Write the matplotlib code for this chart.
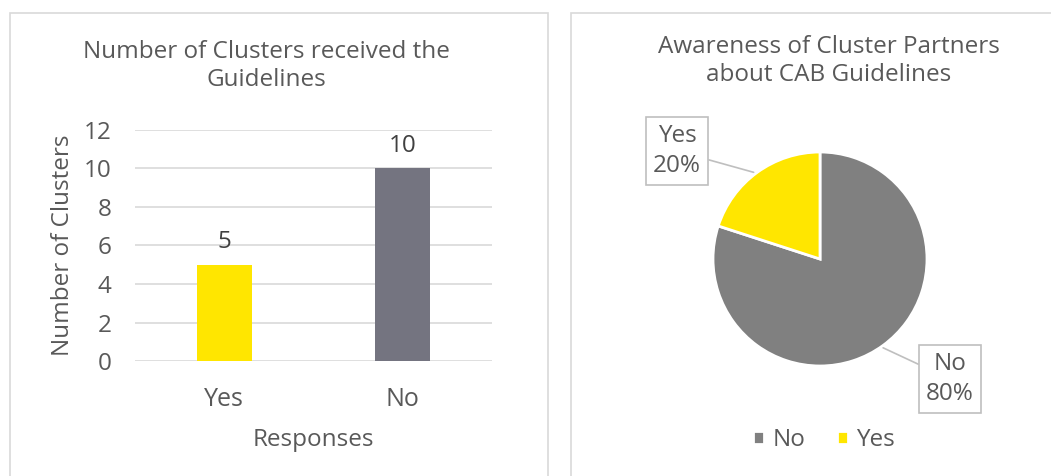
import matplotlib.pyplot as plt
from matplotlib.patches import Rectangle

plt.rcParams['font.family'] = ['Open Sans', 'DejaVu Sans']

bar_categories = ["Yes", "No"]
bar_values = [5, 10]
pie_labels = ["No", "Yes"]
pie_values = [80, 20]

yellow = "#FFE600"
bar_grey = "#747480"
pie_grey = "#808080"
txt = "#595959"

W, H = 1051, 476
fig = plt.figure(figsize=(W / 100, H / 100), dpi=100)

# panel borders
fig.patches.append(Rectangle((10 / W, -0.1), 538 / W, 1.1 - 13 / H, transform=fig.transFigure,
                             fill=False, edgecolor="#d9d9d9", linewidth=1.2))
fig.patches.append(Rectangle((571 / W, -0.1), 500 / W, 1.1 - 13 / H, transform=fig.transFigure,
                             fill=False, edgecolor="#d9d9d9", linewidth=1.2))

# bar chart
ax = fig.add_axes([135 / W, 1 - 361 / H, 357 / W, 231 / H])
x = range(len(bar_categories))
bars = ax.bar(x, bar_values, width=0.31, color=[yellow, bar_grey], zorder=3)
for b, v in zip(bars, bar_values):
    ax.text(b.get_x() + b.get_width() / 2, v + 0.55, str(v), ha="center", va="bottom",
            fontsize=17.5, color="#404040")
ax.set_xlim(-0.5, 1.5)
ax.set_ylim(0, 12)
ax.set_yticks(range(0, 13, 2))
ax.set_xticks(list(x))
ax.set_xticklabels(bar_categories)
ax.tick_params(axis="y", labelsize=17.5, colors=txt, length=0, pad=17)
ax.tick_params(axis="x", labelsize=18, colors=txt, length=0, pad=19)
ax.grid(axis="y", color="#d9d9d9", linewidth=1.2, zorder=0)
for s in ax.spines.values():
    s.set_visible(False)
ax.set_ylabel("Number of Clusters", fontsize=17.5, color=txt, labelpad=6)
ax.set_xlabel("Responses", fontsize=17.5, color=txt, labelpad=11)
fig.text(266 / W, 1 - 66 / H, "Number of Clusters received the\nGuidelines", ha="center",
         va="center", fontsize=17.5, color=txt, linespacing=1.25)

# pie chart
r = 107
axp = fig.add_axes([(820 - r) / W, 1 - (259 + r) / H, 2 * r / W, 2 * r / H])
wedges, _ = axp.pie(pie_values, colors=[pie_grey, yellow], startangle=90, counterclock=False,
                    wedgeprops=dict(edgecolor="white", linewidth=2))
axp.set_xlim(-1, 1)
axp.set_ylim(-1, 1)
axp.set_aspect("auto")

box = dict(boxstyle="square,pad=0.3", facecolor="white", edgecolor="#bfbfbf", linewidth=1.2)
axp.annotate("Yes\n20%", xy=(-0.62, 0.81), xycoords="data",
             xytext=(677 / W, 1 - 151 / H), textcoords="figure fraction",
             ha="center", va="center", fontsize=17.5, color=txt, bbox=box, linespacing=1.35,
             arrowprops=dict(arrowstyle="-", color="#bfbfbf", linewidth=1.2,
                             shrinkA=0, shrinkB=0))
axp.annotate("No\n80%", xy=(0.59, -0.83), xycoords="data",
             xytext=(950 / W, 1 - 379 / H), textcoords="figure fraction",
             ha="center", va="center", fontsize=17.5, color=txt, bbox=box, linespacing=1.35,
             arrowprops=dict(arrowstyle="-", color="#bfbfbf", linewidth=1.2,
                             shrinkA=0, shrinkB=0))

fig.text(829 / W, 1 - 61 / H, "Awareness of Cluster Partners\nabout CAB Guidelines", ha="center",
         va="center", fontsize=17.5, color=txt, linespacing=1.25)

fig.legend(wedges, pie_labels, loc="center", bbox_to_anchor=(824 / W, 1 - 440 / H), ncol=2,
           frameon=False, fontsize=17.5, labelcolor=txt, handlelength=0.45, handleheight=0.45,
           handletextpad=0.35, columnspacing=1.3)

fig.savefig("out.png", dpi=100)
